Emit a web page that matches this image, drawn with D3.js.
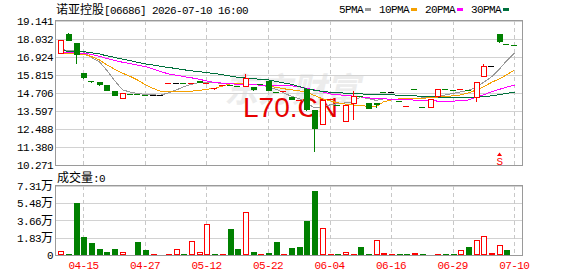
<!DOCTYPE html>
<html>
<head>
<meta charset="utf-8">
<script src="https://cdn.jsdelivr.net/npm/d3@7"></script>
<style>
body { margin: 0; background: #fff; }
svg { display: block; }
text { font-family: "Liberation Mono", "Noto Sans CJK SC", monospace; }
.a { font-size: 11px; letter-spacing: -0.6px; }
.c { font-size: 12px; font-family: "Noto Sans CJK SC", sans-serif; }
</style>
</head>
<body>
<div id="canvas"></div>
<script>
// daily K-line, 诺亚控股 06686
var openP = [17.15, 18.33, 17.81, 15.95, 15.44, 15.40, 15.21, 14.84, 14.38, 14.65,
             14.63, 14.60, 14.59, 14.59, 15.32, 15.33, 15.32, 15.32, 15.47, 15.33,
             14.99, 15.21, 15.20, 15.16, 15.15, 15.10, 15.26, 15.45, 14.79, 14.79,
             14.49, 14.27, 14.95, 13.64, 12.81, 14.30, 13.96, 12.99, 14.12, 14.53,
             14.12, 14.12, 14.77, 14.76, 14.25, 13.92, 14.95, 13.85, 13.88, 14.55,
             14.95, 14.91, 14.94, 14.91, 14.49, 15.76, 16.37, 18.32, 17.76, 17.68];
var closeP = [17.95, 17.88, 17.05, 15.66, 15.43, 15.21, 14.85, 14.54, 14.71, 14.64,
              14.62, 14.59, 14.59, 14.59, 15.33, 15.33, 15.31, 15.33, 15.33, 15.35,
              15.00, 15.22, 15.18, 15.15, 15.62, 14.90, 15.25, 14.84, 14.78, 14.80,
              14.29, 14.28, 13.64, 12.45, 14.30, 14.31, 13.95, 13.98, 14.55, 14.52,
              13.77, 13.98, 14.76, 14.76, 14.24, 13.93, 14.94, 13.84, 14.35, 14.96,
              14.94, 14.90, 14.95, 14.90, 15.41, 16.37, 16.37, 17.81, 17.75, 17.67];
var highP = [17.95, 18.42, 17.81, 15.95, 15.44, 15.40, 15.21, 14.84, 14.71, 14.65,
             14.63, 14.60, 14.59, 14.59, 15.33, 15.33, 15.32, 15.33, 15.47, 15.35,
             15.00, 15.22, 15.20, 15.16, 15.89, 15.10, 15.26, 15.45, 14.79, 14.80,
             14.49, 14.30, 14.96, 13.64, 14.30, 14.31, 13.96, 13.98, 14.80, 14.53,
             14.12, 14.12, 14.77, 14.76, 14.25, 13.93, 14.95, 13.85, 14.35, 14.96,
             14.95, 14.91, 14.95, 14.91, 15.41, 16.48, 16.37, 18.32, 17.76, 17.68];
var lowP = [17.15, 17.88, 16.48, 15.56, 15.35, 15.11, 14.80, 14.54, 14.38, 14.64,
            14.62, 14.59, 14.59, 14.59, 15.32, 15.33, 15.31, 15.32, 15.33, 15.33,
            14.90, 15.21, 15.18, 15.15, 15.07, 14.82, 15.25, 14.84, 14.70, 14.79,
            14.25, 14.20, 13.60, 11.05, 12.81, 14.30, 13.95, 12.99, 13.06, 14.52,
            13.77, 13.77, 14.76, 14.76, 14.24, 13.92, 14.94, 13.84, 13.88, 14.55,
            14.94, 14.90, 14.94, 14.90, 14.18, 15.76, 16.37, 17.81, 17.75, 17.67];
// volume in 万
var volume = [0.39, 0.10, 5.54, 1.92, 1.28, 0.64, 0.32, 0.64, 0.28, 0,
              1.38, 0.53, 0.10, 0, 0.10, 0.60, 0.10, 1.49, 0.32, 3.30,
              0.10, 0.10, 2.77, 0.64, 4.54, 0.32, 0.10, 0.20, 1.38, 0.10,
              0.75, 0.85, 3.62, 6.81, 2.84, 0.10, 0.10, 0.28, 0.10, 0.85,
              0.10, 1.56, 0.20, 0.10, 0.10, 0.10, 0.20, 0.10, 0, 0.10,
              0.10, 0.10, 0.50, 0.85, 1.56, 1.99, 0.20, 1.03, 0.53, 0];
var ma5 = [17.36, 17.35, 17.33, 17.23, 16.90, 16.62, 16.13, 15.48, 14.90, 14.76,
           14.68, 14.62, 14.59, 14.57, 14.72, 14.90, 15.08, 15.24, 15.35, 15.35,
           15.33, 15.31, 15.27, 15.25, 15.27, 15.24, 15.21, 15.08, 14.93, 14.72,
           14.50, 14.35, 14.10, 13.79, 13.87, 13.98, 14.04, 14.10, 14.18, 14.47,
           14.35, 14.25, 14.35, 14.32, 14.28, 14.28, 14.35, 14.41, 14.44, 14.49,
           14.59, 14.68, 14.78, 14.86, 15.08, 15.36, 15.70, 16.19, 16.68, 17.16];
var ma10 = [17.16, 17.14, 17.12, 17.09, 16.95, 16.74, 16.45, 16.18, 15.93, 15.72,
            15.51, 15.21, 14.98, 14.81, 14.78, 14.78, 14.78, 14.82, 14.87, 14.93,
            14.99, 15.13, 15.27, 15.27, 15.27, 15.24, 15.21, 15.13, 15.05, 14.97,
            14.90, 14.83, 14.75, 14.55, 14.35, 14.22, 14.10, 14.02, 13.96, 13.92,
            13.89, 13.88, 14.16, 14.28, 14.35, 14.37, 14.38, 14.39, 14.41, 14.43,
            14.50, 14.53, 14.59, 14.71, 14.90, 15.08, 15.36, 15.58, 15.82, 16.13];
var ma20 = [17.22, 17.20, 17.18, 17.16, 17.09, 16.96, 16.84, 16.72, 16.60, 16.51,
            16.42, 16.33, 16.18, 16.03, 15.88, 15.80, 15.72, 15.64, 15.55, 15.45,
            15.36, 15.31, 15.27, 15.25, 15.23, 15.21, 15.19, 15.17, 15.16, 15.15,
            15.15, 15.08, 14.99, 14.89, 14.78, 14.65, 14.60, 14.56, 14.51, 14.47,
            14.41, 14.35, 14.34, 14.33, 14.32, 14.30, 14.27, 14.25, 14.23, 14.21,
            14.20, 14.21, 14.22, 14.28, 14.45, 14.59, 14.78, 14.93, 15.07, 15.19];
var ma30 = [17.30, 17.29, 17.27, 17.25, 17.18, 17.11, 17.00, 16.90, 16.79, 16.69,
            16.60, 16.50, 16.43, 16.35, 16.28, 16.21, 16.14, 16.07, 16.02, 15.96,
            15.91, 15.83, 15.75, 15.67, 15.63, 15.59, 15.55, 15.51, 15.42, 15.33,
            15.24, 15.10, 14.96, 14.88, 14.81, 14.75, 14.72, 14.70, 14.67, 14.65,
            14.63, 14.62, 14.60, 14.59, 14.57, 14.56, 14.53, 14.50, 14.47, 14.46,
            14.45, 14.45, 14.45, 14.45, 14.46, 14.47, 14.53, 14.60, 14.68, 14.76];
var priceTicks = [19.141, 18.032, 16.924, 15.815, 14.706, 13.597, 12.488, 11.380, 10.271];
var volTicks = [7.31, 5.48, 3.66, 1.83, 0];
var dateIdx = [3, 11, 19, 27, 35, 43, 51, 59];
var dateLabels = ["04-15", "04-27", "05-12", "05-22", "06-04", "06-16", "06-29", "07-10"];
var maNames = ["5PMA", "10PMA", "20PMA", "30PMA"];

var red = "#ff0000", green = "#008000";
var maColors = ["#999999", "#f5a000", "#ff00ff", "#00703c"];

var n = openP.length;
var left = 56, right = 522;
var pTop = 21, pBot = 165, vTop = 186, vBot = 255;

var svg = d3.select("#canvas").append("svg")
    .attr("width", 578)
    .attr("height", 276);

var x = d3.scaleBand().domain(d3.range(n)).range([56.5, 518]);
var y = d3.scaleLinear().domain([10.271, 19.141]).range([pBot, pTop]);
var yv = d3.scaleLinear().domain([0, 7.31]).range([vBot, vTop]);

function cx(i) { return Math.round(x(i) + x.bandwidth() / 2) + 0.5; }
function px(v) { return Math.round(v) + 0.5; }

// split ascii / cjk runs so widths match the bitmap font
function addRuns(t, str) {
    str.match(/[\x00-\x7f]+|[^\x00-\x7f]+/g).forEach(function (s) {
        t.append("tspan").attr("class", /[^\x00-\x7f]/.test(s) ? "c" : "a").text(s);
    });
}

// watermarks
svg.append("text")
    .attr("x", 226).attr("y", 102)
    .attr("transform", "skewX(-12) translate(20,0)")
    .style("font-family", "'Noto Sans CJK SC'")
    .style("font-size", "34px")
    .style("font-weight", "bold")
    .attr("fill", "#ececec")
    .text("东方财富");

// grid
var grid = svg.append("g").attr("shape-rendering", "crispEdges");
grid.selectAll("line.hp").data(priceTicks).join("line")
    .attr("x1", left).attr("x2", right)
    .attr("y1", function (d) { return px(y(d)); })
    .attr("y2", function (d) { return px(y(d)); })
    .attr("stroke", "#d2d2d2");
grid.selectAll("line.hv").data(volTicks).join("line")
    .attr("class", "hv")
    .attr("x1", left).attr("x2", right)
    .attr("y1", function (d) { return px(yv(d)); })
    .attr("y2", function (d) { return px(yv(d)); })
    .attr("stroke", "#d2d2d2");
[[pTop, pBot], [vTop, vBot]].forEach(function (r) {
    grid.append("g").selectAll("line").data(dateIdx).join("line")
        .attr("x1", cx).attr("x2", cx)
        .attr("y1", r[0]).attr("y2", r[1])
        .attr("stroke", "#c8c8c8")
        .attr("stroke-dasharray", "4,3");
});

svg.append("text")
    .attr("x", 243).attr("y", 117)
    .style("font-family", "'Liberation Sans', Arial, sans-serif")
    .style("font-size", "28px")
    .attr("fill", "#e60000")
    .text("L70.CN");

// moving averages
var maLine = d3.line()
    .x(function (d, i) { return cx(i); })
    .y(function (d) { return y(d); });
[ma5, ma10, ma20, ma30].forEach(function (m, k) {
    svg.append("path")
        .datum(m)
        .attr("d", maLine)
        .attr("fill", "none")
        .attr("stroke", maColors[k])
        .attr("stroke-width", 1)
        .attr("shape-rendering", "crispEdges");
});

// candles
function candleColor(i) {
    if (closeP[i] > openP[i]) return red;
    if (closeP[i] < openP[i]) return green;
    return "#000";
}
var cg = svg.append("g").attr("shape-rendering", "crispEdges");
d3.range(n).forEach(function (i) {
    var c = cx(i), col = candleColor(i);
    var top = y(Math.max(openP[i], closeP[i]));
    var bot = y(Math.min(openP[i], closeP[i]));
    if (y(lowP[i]) - y(highP[i]) >= 1) {
        cg.append("line")
            .attr("x1", c).attr("x2", c)
            .attr("y1", Math.round(y(highP[i]))).attr("y2", Math.round(y(lowP[i])))
            .attr("stroke", col);
    }
    if (bot - top < 1.5) {
        cg.append("rect")
            .attr("x", c - 3.5).attr("y", Math.round(y(closeP[i])) - 0.5)
            .attr("width", 6).attr("height", 1.5)
            .attr("fill", col);
    } else if (col == red) {
        cg.append("rect")
            .attr("x", c - 2.5).attr("y", px(top))
            .attr("width", 5).attr("height", Math.round(bot - top))
            .attr("fill", "#fff").attr("stroke", red);
    } else {
        cg.append("rect")
            .attr("x", c - 3).attr("y", Math.round(top))
            .attr("width", 6).attr("height", Math.round(bot - top))
            .attr("fill", green);
    }
});

// volume bars, red when close >= previous close
var vg = svg.append("g").attr("shape-rendering", "crispEdges");
d3.range(n).forEach(function (i) {
    if (!volume[i]) return;
    var up = i == 0 || closeP[i] >= closeP[i - 1];
    var c = cx(i), h = vBot - yv(volume[i]);
    if (up && h >= 2.5) {
        vg.append("rect")
            .attr("x", c - 2.5).attr("y", px(yv(volume[i])))
            .attr("width", 5).attr("height", Math.round(h) - 1)
            .attr("fill", "#fff").attr("stroke", red);
    } else {
        vg.append("rect")
            .attr("x", c - 3).attr("y", vBot - Math.max(1, Math.round(h)))
            .attr("width", 6).attr("height", Math.max(1, Math.round(h)))
            .attr("fill", up ? red : green);
    }
});

// panel borders
[[pTop, pBot], [vTop, vBot]].forEach(function (r) {
    svg.append("rect")
        .attr("x", left - 0.5).attr("y", r[0] - 0.5)
        .attr("width", right - left + 1).attr("height", r[1] - r[0] + 1)
        .attr("fill", "none")
        .attr("stroke", "#9a9a9a")
        .attr("shape-rendering", "crispEdges");
});

// axes
var ay = svg.append("g")
    .attr("transform", "translate(" + left + ",0)")
    .call(d3.axisLeft(y).tickValues(priceTicks).tickSize(0).tickPadding(3).tickFormat(d3.format(".3f")));
var av = svg.append("g")
    .attr("transform", "translate(" + left + ",0)")
    .call(d3.axisLeft(yv).tickValues(volTicks).tickSize(0).tickPadding(3)
        .tickFormat(function (d) { return d == 0 ? "0" : d.toFixed(2) + "万"; }));
var ax = svg.append("g")
    .attr("transform", "translate(0," + vBot + ")")
    .call(d3.axisBottom(x).tickValues(dateIdx).tickSize(0).tickPadding(7)
        .tickFormat(function (d) { return dateLabels[dateIdx.indexOf(d)]; }));
[ay, av, ax].forEach(function (g) {
    g.select(".domain").remove();
    g.selectAll("text").each(function () {
        var t = d3.select(this), s = t.text();
        t.text(null);
        addRuns(t, s);
    });
    g.selectAll("text").attr("fill", "#000").style("font-family", null);
});
ay.selectAll("text").attr("dy", "0.36em");
av.selectAll("text").attr("dy", "0.36em");
ax.selectAll("text").attr("fill", red);

// title, legend, volume caption
var title = svg.append("text").attr("x", 56).attr("y", 14).attr("fill", "#000");
addRuns(title, "诺亚控股[06686] 2026-07-10 16:00");
var vcap = svg.append("text").attr("x", 57).attr("y", 182).attr("fill", "#000");
addRuns(vcap, "成交量:0");

var lx = 339;
maNames.forEach(function (name, k) {
    var w = name.length * 6;
    svg.append("text").attr("x", lx).attr("y", 13).attr("class", "a").attr("fill", "#000").text(name);
    svg.append("rect")
        .attr("x", lx + w + 2).attr("y", 8)
        .attr("width", 6).attr("height", 3)
        .attr("fill", maColors[k]);
    lx += w + 16;
});

// S marker on 07-09
var sx = cx(57);
svg.append("path")
    .attr("d", "M" + (sx - 2.5) + ",156L" + (sx + 2.5) + ",156L" + sx + ",152.5Z")
    .attr("fill", red);
svg.append("text")
    .attr("x", sx).attr("y", 165)
    .attr("text-anchor", "middle")
    .attr("class", "a")
    .attr("fill", red)
    .text("S");
</script>
</body>
</html>
